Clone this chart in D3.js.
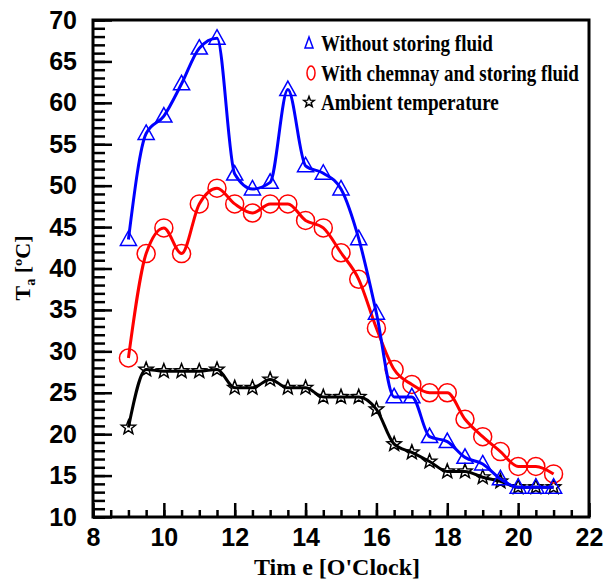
<!DOCTYPE html>
<html lang="en">
<head>
  <meta charset="UTF-8">
  <title>Ta vs time</title>
  <script src="https://d3js.org/d3.v7.min.js"></script>
  <style>
    body { margin: 0; background: #fff; }
    svg { font-family: "Liberation Serif", "Times New Roman", serif; font-weight: bold; }
    .tick line { stroke: #000; stroke-width: 2.5px; }
    .tick text { fill: #000; }
  </style>
</head>
<body>
<svg width="605" height="580"></svg>
<script>
  // time of day, every half hour
  const hours = [9, 9.5, 10, 10.5, 11, 11.5, 12, 12.5, 13, 13.5, 14, 14.5, 15,
                 15.5, 16, 16.5, 17, 17.5, 18, 18.5, 19, 19.5, 20, 20.5, 21];

  const withoutFluid = [43.5, 56.3, 58.4, 62.3, 66.6, 67.8, 51.4, 49.6, 50.4, 61.6, 52.4, 51.5, 49.6,
                        43.6, 34.6, 24.5, 24.5, 19.7, 19.1, 17.2, 16.4, 14.6, 13.6, 13.6, 13.6];

  const withChimney = [29.2, 41.8, 44.9, 41.8, 47.8, 49.7, 47.8, 46.7, 47.8, 47.8, 45.8, 44.9, 41.9,
                       38.7, 32.8, 27.8, 26.0, 25.0, 25.0, 21.8, 19.7, 17.9, 16.1, 16.1, 15.2];

  const ambient = [20.8, 27.8, 27.6, 27.6, 27.6, 27.8, 25.6, 25.6, 26.6, 25.6, 25.6, 24.5, 24.5,
                   24.5, 23.0, 18.8, 17.8, 16.7, 15.5, 15.5, 14.8, 14.3, 13.6, 13.6, 13.6];

  const seriesNames = ["Without storing fluid", "With chemnay and storing fluid", "Ambient temperature"];

  const xMajor = [8, 10, 12, 14, 16, 18, 20, 22];
  const yMajor = [10, 15, 20, 25, 30, 35, 40, 45, 50, 55, 60, 65, 70];

  const svg = d3.select("svg");
  const padL = 93, padR = 589, padT = 20, padB = 517;

  const x = d3.scaleLinear().domain([8, 22]).range([padL, padR]);
  const y = d3.scaleLinear().domain([10, 70]).range([padB, padT]);

  // minor ticks first, then the labelled major ones
  svg.append("g")
    .attr("transform", `translate(0,${padB})`)
    .call(d3.axisBottom(x).tickValues(d3.range(8, 22.01, 0.5)).tickSize(-7).tickFormat(""))
    .call(g => g.select(".domain").remove());

  svg.append("g")
    .attr("transform", `translate(0,${padB})`)
    .call(d3.axisBottom(x).tickValues(xMajor).tickSize(-14).tickPadding(11).tickFormat(d3.format("d")))
    .call(g => g.select(".domain").remove())
    .selectAll("text").style("font-size", "25px");

  svg.append("g")
    .attr("transform", `translate(${padL},0)`)
    .call(d3.axisLeft(y).tickValues(d3.range(10, 70.01, 1)).tickSize(-12).tickFormat(""))
    .call(g => g.select(".domain").remove());

  svg.append("g")
    .attr("transform", `translate(${padL},0)`)
    .call(d3.axisLeft(y).tickValues(yMajor).tickSize(-19).tickPadding(16).tickFormat(d3.format("d")))
    .call(g => g.select(".domain").remove())
    .selectAll("text").style("font-size", "25px");

  // frame
  svg.append("rect")
    .attr("x", padL).attr("y", padT)
    .attr("width", padR - padL).attr("height", padB - padT)
    .attr("fill", "none").attr("stroke", "#000").attr("stroke-width", 3);

  // axis titles
  svg.append("text")
    .attr("x", 337).attr("y", 575)
    .attr("text-anchor", "middle")
    .style("font-size", "24px")
    .text("Tim e [O'Clock]");

  const yt = svg.append("text")
    .attr("transform", "translate(30,268) rotate(-90)")
    .attr("text-anchor", "middle")
    .style("font-size", "22px");
  yt.append("tspan").text("T");
  yt.append("tspan").attr("dy", 5).style("font-size", "14px").text("a");
  yt.append("tspan").attr("dy", -5).text(" [\u00baC]");

  // marker shapes
  const triPath = s => `M0,${-s}L${s * 0.95},${s * 0.7}L${-s * 0.95},${s * 0.7}Z`;
  const starPath = (ro, ri) => {
    let p = "";
    for (let i = 0; i < 10; i++) {
      const r = i % 2 ? ri : ro;
      const a = -Math.PI / 2 + i * Math.PI / 5;
      p += (i ? "L" : "M") + (r * Math.cos(a)).toFixed(2) + "," + (r * Math.sin(a)).toFixed(2);
    }
    return p + "Z";
  };

  const line = d3.line()
    .x(d => x(d[0]))
    .y(d => y(d[1]))
    .curve(d3.curveMonotoneX);

  const series = [
    { vals: ambient, color: "#000", mark: "star" },
    { vals: withChimney, color: "#ff0000", mark: "circle" },
    { vals: withoutFluid, color: "#0000ff", mark: "tri" }
  ];

  series.forEach(s => {
    const pts = hours.map((h, i) => [h, s.vals[i]]);
    svg.append("path")
      .datum(pts)
      .attr("d", line)
      .attr("fill", "none")
      .attr("stroke", s.color)
      .attr("stroke-width", 3);

    const g = svg.append("g");
    if (s.mark === "circle") {
      g.selectAll("circle").data(pts).join("circle")
        .attr("cx", d => x(d[0])).attr("cy", d => y(d[1])).attr("r", 9)
        .attr("fill", "none").attr("stroke", s.color).attr("stroke-width", 1.5);
    } else {
      g.selectAll("path").data(pts).join("path")
        .attr("transform", d => `translate(${x(d[0])},${y(d[1])})`)
        .attr("d", s.mark === "tri" ? triPath(8.5) : starPath(7.5, 3.2))
        .attr("fill", "none").attr("stroke", s.color).attr("stroke-width", 1.5);
    }
  });

  // legend (text squeezed horizontally like the original)
  const legend = svg.append("g");
  const rows = [
    { y: 43, w: 172, color: "#0000ff", mark: "tri" },
    { y: 73, w: 258, color: "#ff0000", mark: "circle" },
    { y: 102, w: 178, color: "#000", mark: "star" }
  ];
  rows.forEach((r, i) => {
    if (r.mark === "circle") {
      legend.append("ellipse").attr("cx", 311).attr("cy", r.y).attr("rx", 4).attr("ry", 7)
        .attr("fill", "none").attr("stroke", r.color).attr("stroke-width", 1.5);
    } else {
      legend.append("path")
        .attr("transform", `translate(309,${r.y})`)
        .attr("d", r.mark === "tri" ? "M0,-6L4,5L-4,5Z" : starPath(5.5, 2.3))
        .attr("fill", "none").attr("stroke", r.color).attr("stroke-width", 1.5);
    }
    const t = legend.append("text")
      .style("font-size", "23px")
      .text(seriesNames[i]);
    const natural = t.node().getComputedTextLength();
    t.attr("transform", `translate(321,${r.y + 8}) scale(${r.w / natural},1)`);
  });
</script>
</body>
</html>
